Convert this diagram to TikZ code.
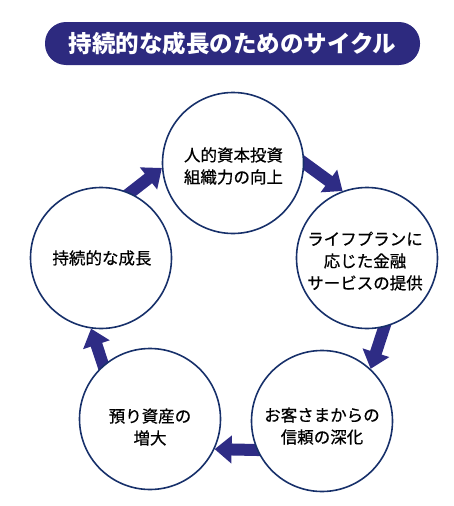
\documentclass[tikz,border=0pt]{standalone}
\usepackage{fontspec}
\newfontfamily\jp{Noto Sans CJK JP}
\newfontfamily\jpmed[FakeBold=0.6]{Noto Sans CJK JP}
\usetikzlibrary{arrows.meta}
\pgfdeclarelayer{background}
\pgfsetlayers{background,main}
\definecolor{titlebg}{HTML}{2D2A7F}
\definecolor{arrowcol}{HTML}{2E2C85}
\definecolor{ringcol}{HTML}{17306A}
\tikzset{
  stage/.style={circle,draw=ringcol,line width=1.6pt,fill=white,minimum size=141pt,inner sep=0pt},
  stagetext/.style={align=center,inner sep=0pt,font=\jpmed\fontsize{16.5}{22}\selectfont},
  flow/.style={draw=arrowcol,line width=12pt,shorten <=-12pt,-{Triangle[length=17pt,width=27pt]}}
}
\begin{document}
\begin{tikzpicture}[x=1pt,y=-1pt]
\useasboundingbox (0,0) rectangle (453,506);
% title
\node (title) [fill=titlebg,rounded corners=21pt,minimum width=375pt,minimum height=43pt,inner sep=0pt,
  text=white,font=\jp\bfseries\fontsize{23.5}{26}\selectfont] at (232.5,43.5) {持続的な成長のためのサイクル};
% circles
\node (c1) [stage] at (233,163) {};
\node (c2) [stage] at (367,258) {};
\node (c3) [stage] at (322,421) {};
\node (c4) [stage] at (150,419) {};
\node (c5) [stage] at (101,258) {};
% texts
\node (t1) [stagetext] at (233.5,166) {人的資本投資\\組織力の向上};
\node (t2) [stagetext] at (365,261) {ライフプランに\\応じた金融\\サービスの提供};
\node (t3) [stagetext] at (322,426) {お客さまからの\\信頼の深化};
\node (t4) [stagetext] at (150,427) {預り資産の\\増大};
\node (t5) [stagetext] at (102,258) {持続的な成長};
% arrows
\begin{pgfonlayer}{background}
\draw[flow] (c1.0) -- (c2.110);
\draw[flow] (c2.-76) -- (c3.47);
\draw[flow] (c3.-156) -- (c4.-25);
\draw[flow] (c4.131) -- (c5.-98);
\draw[flow] (c5.66) -- (c1.184);
\end{pgfonlayer}
\end{tikzpicture}
\end{document}
